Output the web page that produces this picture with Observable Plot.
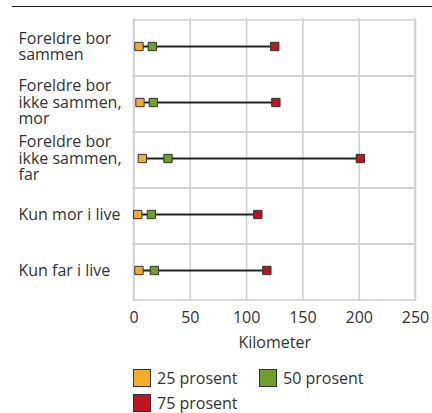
<!DOCTYPE html>
<html>
<head>
<meta charset="utf-8">
<script src="https://cdn.jsdelivr.net/npm/d3@7"></script>
<script src="https://cdn.jsdelivr.net/npm/@observablehq/plot@0.6"></script>
<style>
  html, body { margin: 0; padding: 0; background: #fff; }
  body { width: 432px; height: 413px; position: relative; overflow: hidden; font-family: "Open Sans", sans-serif; color: #333; }
  #topline { position: absolute; left: 12px; top: 6px; width: 420px; height: 0; border-top: 1.5px solid #222; }
  #chart { position: absolute; left: 0; top: 0; }
  #legend { position: absolute; left: 133px; top: 369px; display: grid; grid-template-columns: 126px 126px; row-gap: 7px; font-size: 16px; }
  .item { display: flex; align-items: center; height: 18px; }
  .sw { width: 16px; height: 16px; border: 1px solid #333; margin-right: 6px; box-sizing: content-box; }
</style>
</head>
<body>
<div id="chart"></div>
<div id="topline"></div>
<div id="legend"></div>
<script>
const categories = ["Foreldre bor sammen", "Foreldre bor ikke sammen, mor", "Foreldre bor ikke sammen, far", "Kun mor i live", "Kun far i live"];
const labels = ["Foreldre bor\nsammen", "Foreldre bor\nikke sammen,\nmor", "Foreldre bor\nikke sammen,\nfar", "Kun mor i live", "Kun far i live"];
const p25 = [4.4, 5.3, 7.4, 3.3, 4.4];
const p50 = [16.3, 17.2, 30.2, 15.4, 18.1];
const p75 = [125, 126, 201, 110, 118];
const xTicks = [0, 50, 100, 150, 200, 250];
const xTitle = "Kilometer";
const seriesNames = ["25 prosent", "50 prosent", "75 prosent"];
const seriesColors = ["#F2AE2B", "#6E9E2C", "#C0121F"];

const rows = categories.map((c, i) => ({cat: c, label: labels[i], p25: p25[i], p50: p50[i], p75: p75[i]}));
const points = [];
rows.forEach(r => {
  points.push({cat: r.cat, v: r.p25, s: seriesNames[0]});
  points.push({cat: r.cat, v: r.p50, s: seriesNames[1]});
  points.push({cat: r.cat, v: r.p75, s: seriesNames[2]});
});

const grid = "#d2d2d2";
const chart = Plot.plot({
  width: 432,
  height: 355,
  marginLeft: 133.5,
  marginRight: 17,
  marginTop: 18,
  marginBottom: 54,
  style: {fontFamily: "Open Sans, sans-serif", fontSize: "16px", color: "#333", background: "transparent"},
  x: {domain: [0, 250], ticks: xTicks, label: null, tickSize: 0, tickPadding: 10},
  y: {domain: categories, padding: 0, axis: null},
  color: {domain: seriesNames, range: seriesColors},
  marks: [
    Plot.gridX(xTicks, {stroke: grid, strokeOpacity: 1, strokeWidth: 1.6}),
    Plot.barX(categories, {x1: 0, x2: 250, y: d => d, fill: "none", stroke: grid, strokeWidth: 1.6}),
    Plot.ruleY(rows, {y: "cat", x1: "p25", x2: "p75", stroke: "#222", strokeWidth: 2, dy: -2}),
    Plot.dot(points, {y: "cat", x: "v", fill: "s", symbol: "square", r: 4.7, stroke: "#333", strokeWidth: 1, dy: -2}),
    Plot.text(rows, {y: "cat", text: "label", frameAnchor: "left", textAnchor: "start", dx: -115.5, dy: -2, lineHeight: 1.03, fill: "#333", fontSize: 16}),
    Plot.text([xTitle], {frameAnchor: "bottom", text: d => d, dy: 46, fill: "#333", fontSize: 16})
  ]
});
document.getElementById("chart").appendChild(chart);

const legend = document.getElementById("legend");
seriesNames.forEach((n, i) => {
  const it = document.createElement("div");
  it.className = "item";
  const sw = document.createElement("div");
  sw.className = "sw";
  sw.style.background = seriesColors[i];
  const t = document.createElement("span");
  t.textContent = n;
  it.appendChild(sw); it.appendChild(t);
  legend.appendChild(it);
});
</script>
</body>
</html>
